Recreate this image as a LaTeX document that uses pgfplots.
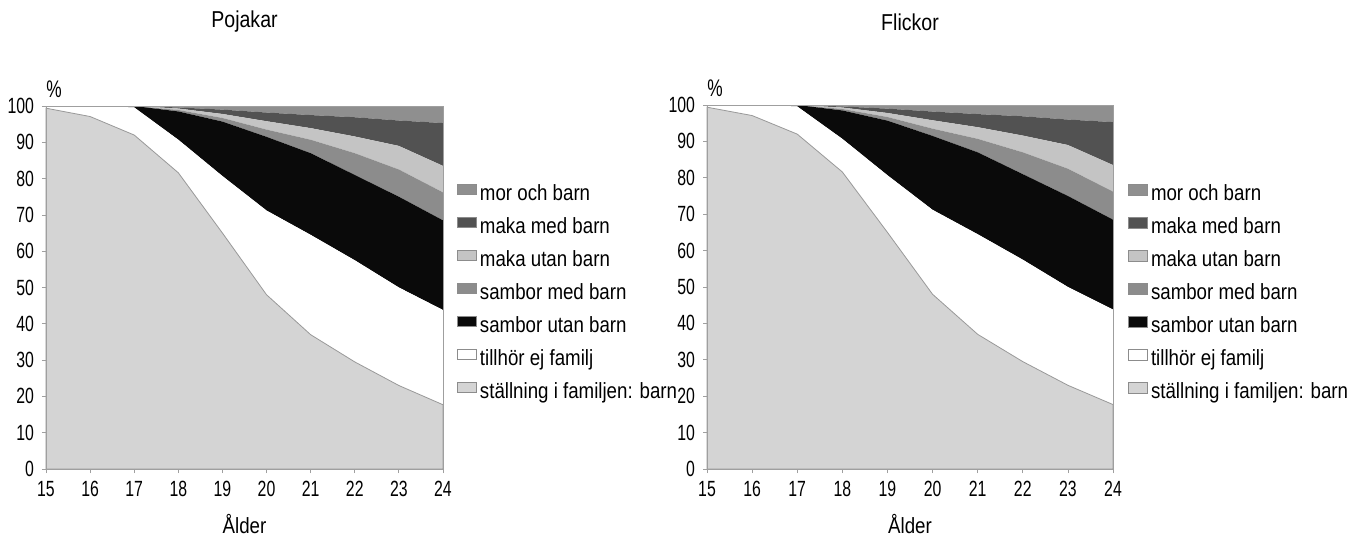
\documentclass[border=0pt]{standalone}
\usepackage{pgfplots}
\pgfplotsset{compat=1.18}
\usepackage{pgfplotstable}
\usepackage{fontspec}
\setmainfont{Liberation Sans}[FakeStretch=0.85]
\newfontfamily\tickfont{Liberation Sans}[FakeStretch=0.72]

\definecolor{cBarn}{gray}{0.83}
\definecolor{cEj}{gray}{1}
\definecolor{cSut}{gray}{0.04}
\definecolor{cSmed}{gray}{0.55}
\definecolor{cMut}{gray}{0.77}
\definecolor{cMmed}{gray}{0.32}
\definecolor{cMor}{gray}{0.56}

\pgfplotstableread{
age barn ej sut smed mut mmed mor
15 99.4 0.6 0 0 0 0 0
16 97.1 2.9 0 0 0 0 0
17 92.0 7.6 0.4 0 0 0 0
18 81.6 9.1 7.8 0.4 0.4 0.3 0.4
19 65.0 15.7 15.0 1.0 1.1 1.2 1.0
20 48.0 23.2 20.3 2.0 2.3 2.4 1.8
21 37.0 27.5 22.5 3.7 3.2 3.6 2.5
22 29.5 28.0 23.5 6.0 4.6 5.3 3.1
23 23.0 27.0 25.0 7.5 6.5 7.0 4.0
24 17.7 26.1 24.7 7.7 7.3 11.8 4.7
}\pojkar

\pgfplotstableread{
age barn ej sut smed mut mmed mor
15 99.4 0.6 0 0 0 0 0
16 97.1 2.9 0 0 0 0 0
17 92.0 7.6 0.4 0 0 0 0
18 81.6 9.1 7.8 0.4 0.4 0.3 0.4
19 65.0 15.7 15.0 1.0 1.1 1.2 1.0
20 48.0 23.2 20.3 2.0 2.3 2.4 1.8
21 37.0 27.5 22.5 3.7 3.2 3.6 2.5
22 29.5 28.0 23.5 6.0 4.6 5.3 3.1
23 23.0 27.0 25.0 7.5 6.5 7.0 4.0
24 17.7 26.1 24.7 7.7 7.3 11.8 4.7
}\flickor

\pgfplotsset{
  mystyle/.style={
    scale only axis,
    anchor=south west,
    clip=false,
    xmin=15, xmax=24, ymin=0, ymax=100,
    xtick={15,...,24}, ytick={0,10,...,100},
    stack plots=y,
    area style,
    axis line style={gray!75},
    xtick pos=bottom, ytick pos=left,
    tick align=outside,
    major tick length=2pt,
    tick style={gray!75, line width=0.4pt},
    /pgf/number format/assume math mode=true,
    ticklabel style={font=\tickfont\fontsize{11}{13}\selectfont},
    yticklabel style={xshift=-0.5pt},
    xticklabel style={yshift=-0.5pt},
    xlabel={Ålder},
    xlabel style={at={(axis description cs:0.5,0)}, anchor=center, yshift=-27.5pt, font=\fontsize{11}{13}\selectfont},
    reverse legend,
    legend cell align=left,
    legend style={draw=none, fill=none, inner sep=0pt, anchor=north west,
      row sep=6.1pt, column sep=1.5pt,
      font=\fontsize{11}{13}\selectfont,
      nodes={inner sep=0pt, text height=7.9pt, text depth=2pt}},
    legend image code/.code={\path[#1,draw=black!45,line width=0.3pt] (0pt,0pt) rectangle (9.5pt,5.3pt);},
  },
}

\begin{document}
\begin{tikzpicture}[x=1pt,y=1pt]
\useasboundingbox (0,0) rectangle (685.5,271);
\node[font=\fontsize{11.5}{13}\selectfont] at (122.25,260) {Pojakar};
\node[font=\fontsize{11.5}{13}\selectfont] at (455,260) {Flickor};

\begin{axis}[mystyle, at={(23pt,36.5pt)}, width=198.5pt, height=181.5pt,
  legend style={at={([xshift=7pt]axis description cs:1,0.787)}}]
\addplot[fill=cBarn, draw=gray!80, line width=0.4pt] table[x=age,y=barn]{\pojkar} \closedcycle;
\addlegendentry{ställning i familjen: barn}
\addplot[fill=cEj, draw=none] table[x=age,y=ej]{\pojkar} \closedcycle;
\addlegendentry{tillhör ej familj}
\addplot[fill=cSut, draw=none] table[x=age,y=sut]{\pojkar} \closedcycle;
\addlegendentry{sambor utan barn}
\addplot[fill=cSmed, draw=none] table[x=age,y=smed]{\pojkar} \closedcycle;
\addlegendentry{sambor med barn}
\addplot[fill=cMut, draw=none] table[x=age,y=mut]{\pojkar} \closedcycle;
\addlegendentry{maka utan barn}
\addplot[fill=cMmed, draw=none] table[x=age,y=mmed]{\pojkar} \closedcycle;
\addlegendentry{maka med barn}
\addplot[fill=cMor, draw=none] table[x=age,y=mor]{\pojkar} \closedcycle;
\addlegendentry{mor och barn}
\node[anchor=base west, inner sep=0pt, font=\tickfont\fontsize{12}{13}\selectfont] at ([yshift=4.5pt]rel axis cs:0,1) {\%};
\end{axis}

\begin{axis}[mystyle, at={(353.5pt,36.5pt)}, width=203pt, height=182pt,
  legend style={at={([xshift=7.5pt]axis description cs:1,0.784)}}]
\addplot[fill=cBarn, draw=gray!80, line width=0.4pt] table[x=age,y=barn]{\flickor} \closedcycle;
\addlegendentry{ställning i familjen: barn}
\addplot[fill=cEj, draw=none] table[x=age,y=ej]{\flickor} \closedcycle;
\addlegendentry{tillhör ej familj}
\addplot[fill=cSut, draw=none] table[x=age,y=sut]{\flickor} \closedcycle;
\addlegendentry{sambor utan barn}
\addplot[fill=cSmed, draw=none] table[x=age,y=smed]{\flickor} \closedcycle;
\addlegendentry{sambor med barn}
\addplot[fill=cMut, draw=none] table[x=age,y=mut]{\flickor} \closedcycle;
\addlegendentry{maka utan barn}
\addplot[fill=cMmed, draw=none] table[x=age,y=mmed]{\flickor} \closedcycle;
\addlegendentry{maka med barn}
\addplot[fill=cMor, draw=none] table[x=age,y=mor]{\flickor} \closedcycle;
\addlegendentry{mor och barn}
\node[anchor=base west, inner sep=0pt, font=\tickfont\fontsize{12}{13}\selectfont] at ([yshift=4.5pt]rel axis cs:0,1) {\%};
\end{axis}
\end{tikzpicture}
\end{document}
